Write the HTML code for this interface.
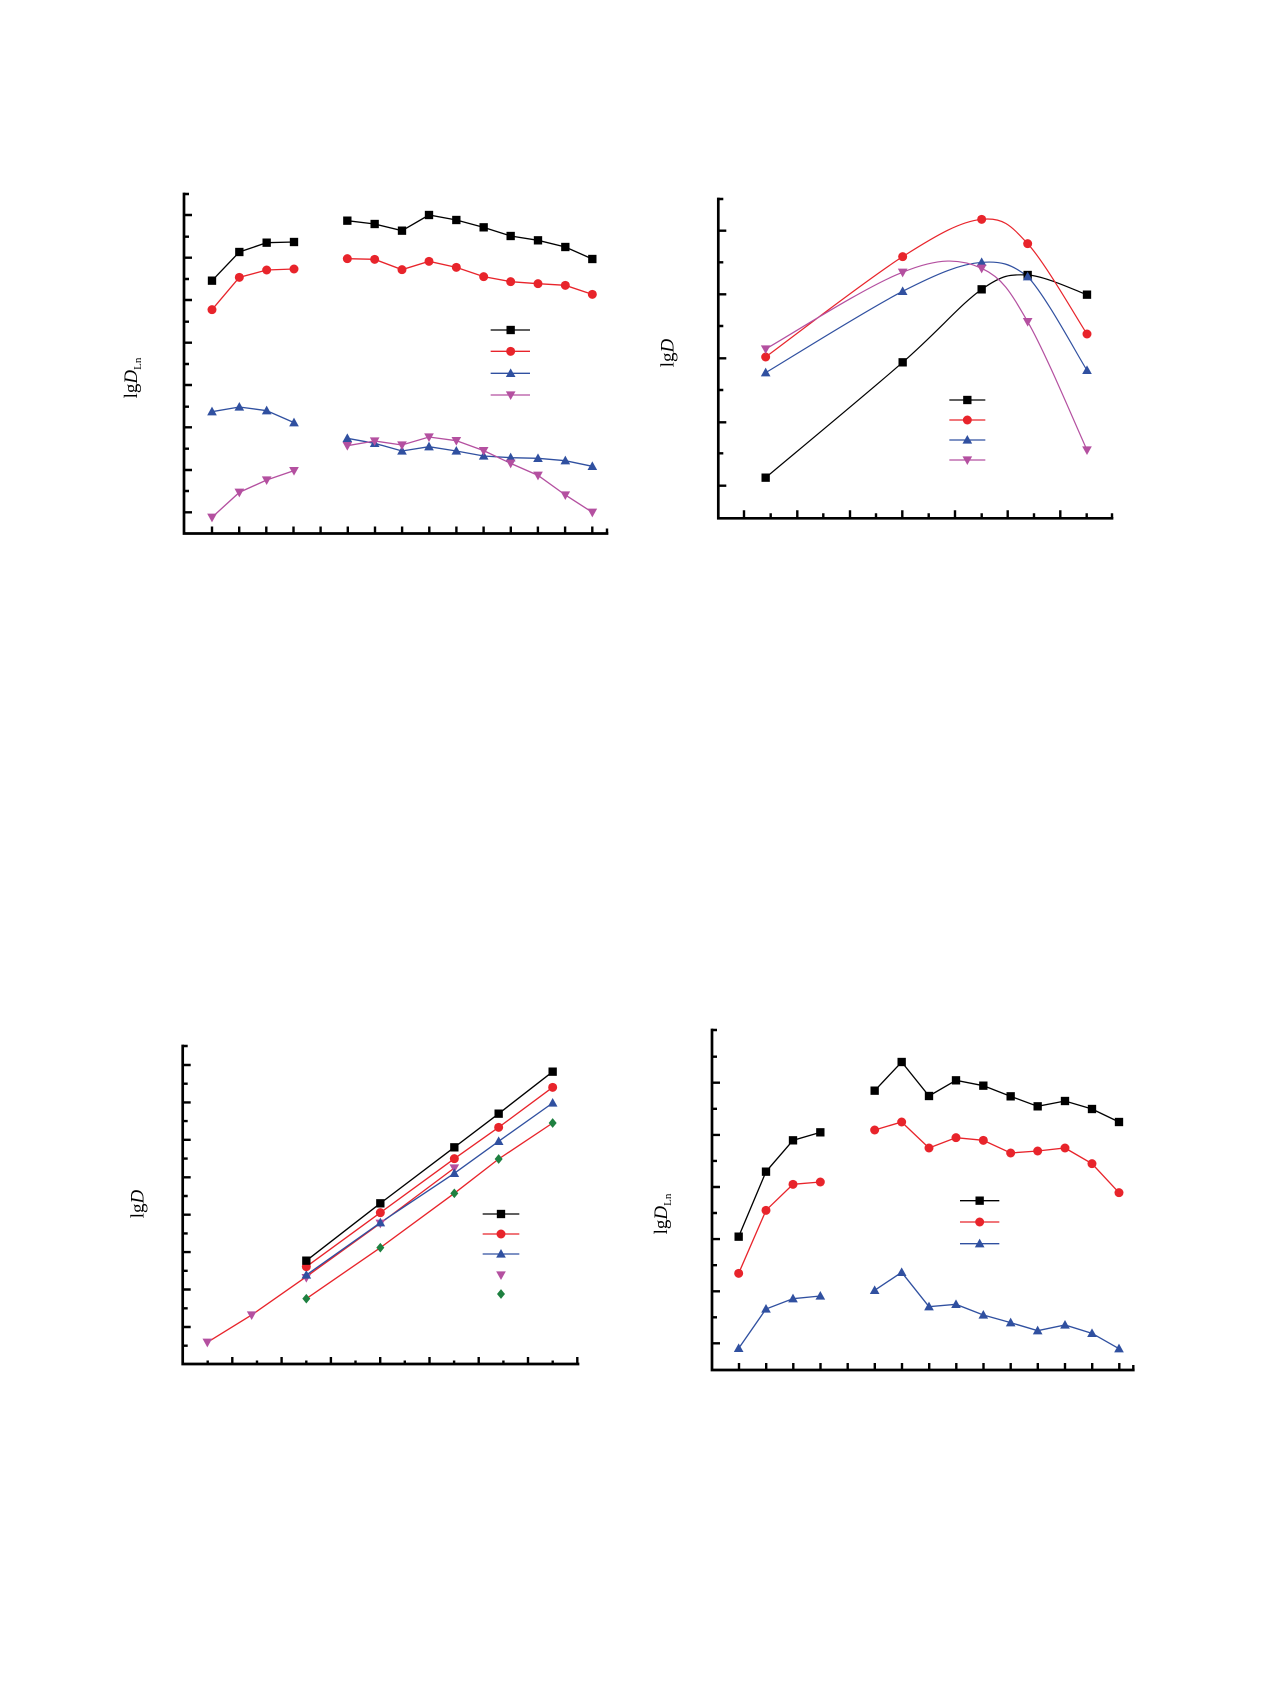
<!DOCTYPE html>
<html><head><meta charset="utf-8"><style>
html,body{margin:0;padding:0;background:#fff;}
svg{display:block;}
.ax{stroke:#000;stroke-width:2.7;fill:none;stroke-linecap:square;}
.tk{stroke:#000;stroke-width:2.4;fill:none;}
.lab{font-family:"Liberation Serif",serif;font-size:19px;fill:#000;}
</style></head><body>
<svg width="1270" height="1683" viewBox="0 0 1270 1683" xmlns="http://www.w3.org/2000/svg">
<defs>
<rect id="sq" x="-12.5" y="-12.5" width="25" height="25"/>
<circle id="ci" r="13.5"/>
<polygon id="tu" points="0,-15 14.5,11 -14.5,11"/>
<polygon id="td" points="0,15 14.5,-11 -14.5,-11"/>
<polygon id="di" points="0,-14.5 12,0 0,14.5 -12,0"/>
</defs>

<!-- ================= CHART 1 ================= -->
<path class="ax" d="M184,194 V533.5 H607"/>
<path class="tk" d="M184,194 h5 M184,215 h8 M184,236.7 h5 M184,257.7 h8 M184,279 h5 M184,300 h8 M184,321.7 h5 M184,342.7 h8 M184,364 h5 M184,385 h8 M184,406.7 h5 M184,427.3 h8 M184,448.7 h5 M184,470 h8 M184,491 h5 M184,512.3 h8"/>
<path class="tk" d="M212,533.5 v-7 M239.2,533.5 v-7 M266.3,533.5 v-7 M293.5,533.5 v-7 M320.6,533.5 v-7 M347.8,533.5 v-7 M375,533.5 v-7 M402.1,533.5 v-7 M429.3,533.5 v-7 M456.4,533.5 v-7 M483.6,533.5 v-7 M510.8,533.5 v-7 M537.9,533.5 v-7 M565.1,533.5 v-7 M592.3,533.5 v-7 M607,533.5 v-5"/>
<text class="lab" transform="translate(137,378) rotate(-90)" text-anchor="middle">lg<tspan font-style="italic">D</tspan><tspan font-size="11" dy="4">Ln</tspan></text>
<g transform="translate(100,180) scale(0.33333)">
 <g fill="none" stroke-width="4">
  <polyline stroke="#000" points="336,302 418,216 500,188 582,186"/>
  <polyline stroke="#000" points="742,122 824,132 906,152 987,105 1069,120 1151,142 1232,168 1314,181 1396,201 1477,237"/>
  <polyline stroke="#e8242b" points="336,389 418,292 500,270 582,267"/>
  <polyline stroke="#e8242b" points="742,236 824,238 906,269 987,244 1069,262 1151,290 1232,305 1314,311 1396,316 1477,343"/>
  <polyline stroke="#3050a0" points="336,695 418,681 500,692 582,728"/>
  <polyline stroke="#3050a0" points="742,775 824,790 906,813 987,800 1069,813 1151,828 1232,833 1314,835 1396,842 1477,859"/>
  <polyline stroke="#b450a0" points="336,1012 418,937 500,900 582,872"/>
  <polyline stroke="#b450a0" points="742,797 824,783 906,795 987,771 1069,782 1151,812 1232,850 1314,886 1396,945 1477,997"/>
  <path stroke="#000" d="M1172,450 H1290"/>
  <path stroke="#e8242b" d="M1172,514 H1290"/>
  <path stroke="#3050a0" d="M1172,580 H1290"/>
  <path stroke="#b450a0" d="M1172,645 H1290"/>
 </g>
 <g fill="#000">
  <use href="#sq" x="336" y="302"/><use href="#sq" x="418" y="216"/><use href="#sq" x="500" y="188"/><use href="#sq" x="582" y="186"/>
  <use href="#sq" x="742" y="122"/><use href="#sq" x="824" y="132"/><use href="#sq" x="906" y="152"/><use href="#sq" x="987" y="105"/><use href="#sq" x="1069" y="120"/><use href="#sq" x="1151" y="142"/><use href="#sq" x="1232" y="168"/><use href="#sq" x="1314" y="181"/><use href="#sq" x="1396" y="201"/><use href="#sq" x="1477" y="237"/>
  <use href="#sq" x="1232" y="450"/>
 </g>
 <g fill="#e8242b">
  <use href="#ci" x="336" y="389"/><use href="#ci" x="418" y="292"/><use href="#ci" x="500" y="270"/><use href="#ci" x="582" y="267"/>
  <use href="#ci" x="742" y="236"/><use href="#ci" x="824" y="238"/><use href="#ci" x="906" y="269"/><use href="#ci" x="987" y="244"/><use href="#ci" x="1069" y="262"/><use href="#ci" x="1151" y="290"/><use href="#ci" x="1232" y="305"/><use href="#ci" x="1314" y="311"/><use href="#ci" x="1396" y="316"/><use href="#ci" x="1477" y="343"/>
  <use href="#ci" x="1232" y="514"/>
 </g>
 <g fill="#3050a0">
  <use href="#tu" x="336" y="695"/><use href="#tu" x="418" y="681"/><use href="#tu" x="500" y="692"/><use href="#tu" x="582" y="728"/>
  <use href="#tu" x="742" y="775"/><use href="#tu" x="824" y="790"/><use href="#tu" x="906" y="813"/><use href="#tu" x="987" y="800"/><use href="#tu" x="1069" y="813"/><use href="#tu" x="1151" y="828"/><use href="#tu" x="1232" y="833"/><use href="#tu" x="1314" y="835"/><use href="#tu" x="1396" y="842"/><use href="#tu" x="1477" y="859"/>
  <use href="#tu" x="1232" y="580"/>
 </g>
 <g fill="#b450a0">
  <use href="#td" x="336" y="1012"/><use href="#td" x="418" y="937"/><use href="#td" x="500" y="900"/><use href="#td" x="582" y="872"/>
  <use href="#td" x="742" y="797"/><use href="#td" x="824" y="783"/><use href="#td" x="906" y="795"/><use href="#td" x="987" y="771"/><use href="#td" x="1069" y="782"/><use href="#td" x="1151" y="812"/><use href="#td" x="1232" y="850"/><use href="#td" x="1314" y="886"/><use href="#td" x="1396" y="945"/><use href="#td" x="1477" y="997"/>
  <use href="#td" x="1232" y="645"/>
 </g>
</g>

<!-- ================= CHART 2 ================= -->
<path class="ax" d="M718.3,199 V518.3 H1112"/>
<path class="tk" d="M718.3,199 h5 M718.3,230.7 h8 M718.3,262.3 h5 M718.3,294.3 h8 M718.3,326 h5 M718.3,358.3 h8 M718.3,390 h5 M718.3,422.3 h8 M718.3,453.3 h5 M718.3,485.7 h8"/>
<path class="tk" d="M744,518.3 v-8 M770.7,518.3 v-5 M797.3,518.3 v-8 M823.3,518.3 v-5 M850,518.3 v-8 M876,518.3 v-5 M902.3,518.3 v-8 M928.7,518.3 v-5 M955,518.3 v-8 M981.7,518.3 v-5 M1007.7,518.3 v-8 M1034,518.3 v-5 M1060.3,518.3 v-8 M1086.7,518.3 v-5 M1112,518.3 v-5"/>
<text class="lab" transform="translate(673.5,353) rotate(-90)" text-anchor="middle">lg<tspan font-style="italic">D</tspan></text>
<g transform="translate(640,180) scale(0.33333)">
 <g fill="none" stroke-width="3.6">
  <path stroke="#000" d="M377,893 C445.5,835.3 680,641.2 788,547 C896,452.8 962.5,371.7 1025,328 C1087.5,284.3 1110.3,282.3 1163,285 C1215.7,287.7 1311.3,334.2 1341,344"/>
  <path stroke="#e8242b" d="M377,531 C445.5,480.8 680,298.8 788,230 C896,161.2 962.5,124.5 1025,118 C1087.5,111.5 1110.3,133.7 1163,191 C1215.7,248.3 1311.3,416.8 1341,462"/>
  <path stroke="#3050a0" d="M377,578 C445.5,537.3 680,389.2 788,334 C896,278.8 962.5,252 1025,247 C1080,243 1112,250 1163,290 C1215.7,344 1311.3,524.2 1341,571"/>
  <path stroke="#b450a0" d="M377,507 C445.5,468.7 680,317.3 788,277 C896,232 962.5,236 1025,265 C1087.5,294 1110.3,334.2 1163,425 C1215.7,515.8 1311.3,745.8 1341,810"/>
  <path stroke="#000" d="M928,660 H1036"/>
  <path stroke="#e8242b" d="M928,720 H1036"/>
  <path stroke="#3050a0" d="M928,780 H1036"/>
  <path stroke="#b450a0" d="M928,840 H1036"/>
 </g>
 <g fill="#000"><use href="#sq" x="377" y="893"/><use href="#sq" x="788" y="547"/><use href="#sq" x="1025" y="328"/><use href="#sq" x="1163" y="285"/><use href="#sq" x="1341" y="344"/><use href="#sq" x="982" y="660"/></g>
 <g fill="#e8242b"><use href="#ci" x="377" y="531"/><use href="#ci" x="788" y="230"/><use href="#ci" x="1025" y="118"/><use href="#ci" x="1163" y="191"/><use href="#ci" x="1341" y="462"/><use href="#ci" x="982" y="720"/></g>
 <g fill="#3050a0"><use href="#tu" x="377" y="578"/><use href="#tu" x="788" y="334"/><use href="#tu" x="1025" y="247"/><use href="#tu" x="1163" y="290"/><use href="#tu" x="1341" y="571"/><use href="#tu" x="982" y="780"/></g>
 <g fill="#b450a0"><use href="#td" x="377" y="507"/><use href="#td" x="788" y="277"/><use href="#td" x="1025" y="265"/><use href="#td" x="1163" y="425"/><use href="#td" x="1341" y="810"/><use href="#td" x="982" y="840"/></g>
</g>

<!-- ================= CHART 3 ================= -->
<path class="ax" d="M182.7,1046 V1364 H578"/>
<path class="tk" d="M182.7,1046 h5 M182.7,1065 h8 M182.7,1083.7 h5 M182.7,1102.4 h8 M182.7,1121.1 h5 M182.7,1139.8 h8 M182.7,1158.6 h5 M182.7,1177.3 h8 M182.7,1196 h5 M182.7,1214.7 h8 M182.7,1233.4 h5 M182.7,1252.1 h8 M182.7,1270.8 h5 M182.7,1289.5 h8 M182.7,1308.3 h5 M182.7,1327 h8 M182.7,1345.7 h5"/>
<path class="tk" d="M207.7,1364 v-3.5 M232.3,1364 v-7 M257,1364 v-3.5 M281.6,1364 v-7 M306.3,1364 v-3.5 M330.9,1364 v-7 M355.5,1364 v-3.5 M380.2,1364 v-7 M404.8,1364 v-3.5 M429.5,1364 v-7 M454.1,1364 v-3.5 M478.7,1364 v-7 M503.4,1364 v-3.5 M528,1364 v-7 M552.7,1364 v-3.5 M577.3,1364 v-7"/>
<text class="lab" transform="translate(143.5,1204) rotate(-90)" text-anchor="middle">lg<tspan font-style="italic">D</tspan></text>
<g transform="translate(100,1010) scale(0.33333)">
 <g fill="none" stroke-width="4">
  <polyline stroke="#e8242b" points="322,997 455,915 619,800 841,640 1063,474"/>
  <polyline stroke="#e8242b" points="619,866 841,713 1063,550 1196,447 1358,339"/>
  <polyline stroke="#3050a0" points="619,795 841,638 1063,490 1196,394 1358,279"/>
  <polyline stroke="#e8242b" points="619,770 841,608 1063,446 1196,352 1358,232"/>
  <polyline stroke="#000" points="619,752 841,580 1063,412 1196,311 1358,185"/>
  <path stroke="#000" d="M1148,612 H1258"/>
  <path stroke="#e8242b" d="M1148,672 H1258"/>
  <path stroke="#3050a0" d="M1148,732 H1258"/>
 </g>
 <g fill="#1e8040"><use href="#di" x="619" y="866"/><use href="#di" x="841" y="713"/><use href="#di" x="1063" y="550"/><use href="#di" x="1196" y="447"/><use href="#di" x="1358" y="339"/><use href="#di" x="1203" y="852"/></g>
 <g fill="#b450a0"><use href="#td" x="322" y="997"/><use href="#td" x="455" y="915"/><use href="#td" x="619" y="803"/><use href="#td" x="841" y="640"/><use href="#td" x="1063" y="474"/><use href="#td" x="1203" y="795"/></g>
 <g fill="#3050a0"><use href="#tu" x="619" y="795"/><use href="#tu" x="841" y="638"/><use href="#tu" x="1063" y="490"/><use href="#tu" x="1196" y="394"/><use href="#tu" x="1358" y="279"/><use href="#tu" x="1203" y="732"/></g>
 <g fill="#e8242b"><use href="#ci" x="619" y="770"/><use href="#ci" x="841" y="608"/><use href="#ci" x="1063" y="446"/><use href="#ci" x="1196" y="352"/><use href="#ci" x="1358" y="232"/><use href="#ci" x="1203" y="672"/></g>
 <g fill="#000"><use href="#sq" x="619" y="752"/><use href="#sq" x="841" y="580"/><use href="#sq" x="1063" y="412"/><use href="#sq" x="1196" y="311"/><use href="#sq" x="1358" y="185"/><use href="#sq" x="1203" y="612"/></g>
</g>

<!-- ================= CHART 4 ================= -->
<path class="ax" d="M712,1030 V1370 H1133.3"/>
<path class="tk" d="M712,1030 h5 M712,1056.7 h5 M712,1082.7 h8 M712,1108.8 h5 M712,1134.9 h8 M712,1160.9 h5 M712,1187 h8 M712,1213 h5 M712,1239.1 h8 M712,1265.2 h5 M712,1291.3 h8 M712,1317.3 h5 M712,1343.3 h8"/>
<path class="tk" d="M739,1370 v-7 M766.2,1370 v-7 M793.3,1370 v-7 M820.5,1370 v-7 M847.7,1370 v-7 M874.8,1370 v-7 M902,1370 v-7 M929.2,1370 v-7 M956.3,1370 v-7 M983.5,1370 v-7 M1010.7,1370 v-7 M1037.8,1370 v-7 M1065,1370 v-7 M1092.2,1370 v-7 M1119.3,1370 v-7 M1133.3,1370 v-5"/>
<text class="lab" transform="translate(667,1214) rotate(-90)" text-anchor="middle">lg<tspan font-style="italic">D</tspan><tspan font-size="11" dy="4">Ln</tspan></text>
<g transform="translate(630,1000) scale(0.33333)">
 <g fill="none" stroke-width="4">
  <polyline stroke="#000" points="326,710 408,515 489,421 571,397"/>
  <polyline stroke="#000" points="734,272 815,186 897,288 978,241 1060,257 1142,289 1223,319 1305,303 1386,327 1467,366"/>
  <polyline stroke="#e8242b" points="326,820 408,631 489,553 571,546"/>
  <polyline stroke="#e8242b" points="734,390 815,366 897,444 978,413 1060,421 1142,459 1223,453 1305,444 1386,491 1467,578"/>
  <polyline stroke="#3050a0" points="326,1045 408,927 489,896 571,888"/>
  <polyline stroke="#3050a0" points="734,871 815,817 897,920 978,913 1060,945 1142,968 1223,992 1305,975 1386,1000 1467,1046"/>
  <path stroke="#000" d="M990,602 H1108"/>
  <path stroke="#e8242b" d="M990,666 H1108"/>
  <path stroke="#3050a0" d="M990,731 H1108"/>
 </g>
 <g fill="#000">
  <use href="#sq" x="326" y="710"/><use href="#sq" x="408" y="515"/><use href="#sq" x="489" y="421"/><use href="#sq" x="571" y="397"/>
  <use href="#sq" x="734" y="272"/><use href="#sq" x="815" y="186"/><use href="#sq" x="897" y="288"/><use href="#sq" x="978" y="241"/><use href="#sq" x="1060" y="257"/><use href="#sq" x="1142" y="289"/><use href="#sq" x="1223" y="319"/><use href="#sq" x="1305" y="303"/><use href="#sq" x="1386" y="327"/><use href="#sq" x="1467" y="366"/>
  <use href="#sq" x="1049" y="602"/>
 </g>
 <g fill="#e8242b">
  <use href="#ci" x="326" y="820"/><use href="#ci" x="408" y="631"/><use href="#ci" x="489" y="553"/><use href="#ci" x="571" y="546"/>
  <use href="#ci" x="734" y="390"/><use href="#ci" x="815" y="366"/><use href="#ci" x="897" y="444"/><use href="#ci" x="978" y="413"/><use href="#ci" x="1060" y="421"/><use href="#ci" x="1142" y="459"/><use href="#ci" x="1223" y="453"/><use href="#ci" x="1305" y="444"/><use href="#ci" x="1386" y="491"/><use href="#ci" x="1467" y="578"/>
  <use href="#ci" x="1049" y="666"/>
 </g>
 <g fill="#3050a0">
  <use href="#tu" x="326" y="1045"/><use href="#tu" x="408" y="927"/><use href="#tu" x="489" y="896"/><use href="#tu" x="571" y="888"/>
  <use href="#tu" x="734" y="871"/><use href="#tu" x="815" y="817"/><use href="#tu" x="897" y="920"/><use href="#tu" x="978" y="913"/><use href="#tu" x="1060" y="945"/><use href="#tu" x="1142" y="968"/><use href="#tu" x="1223" y="992"/><use href="#tu" x="1305" y="975"/><use href="#tu" x="1386" y="1000"/><use href="#tu" x="1467" y="1046"/>
  <use href="#tu" x="1049" y="731"/>
 </g>
</g>
</svg>
</body></html>
